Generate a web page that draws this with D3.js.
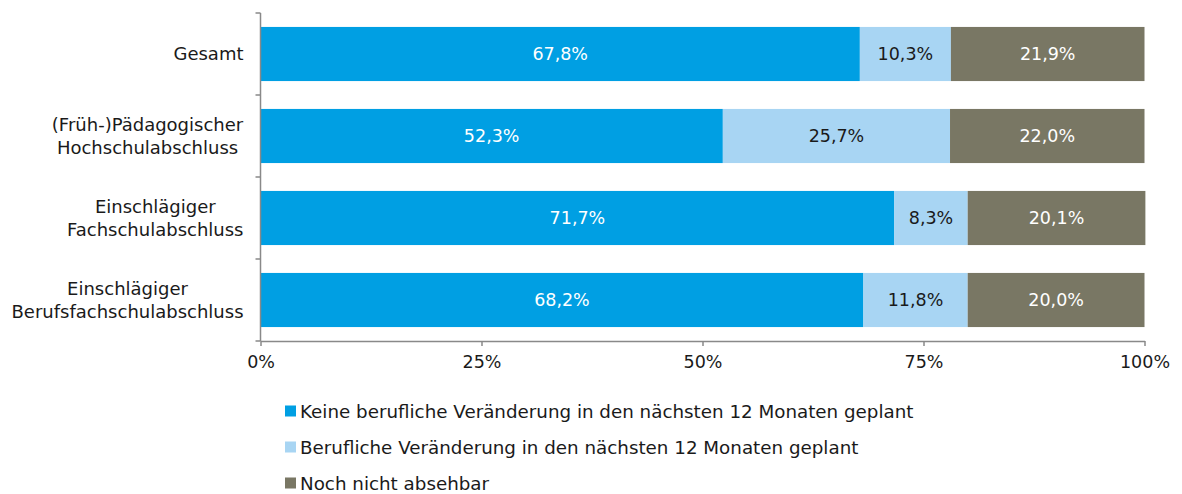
<!DOCTYPE html>
<html>
<head>
<meta charset="utf-8">
<script src="https://cdn.jsdelivr.net/npm/d3@7"></script>
<style>
  body { margin: 0; background: #fff; }
  svg text { font-family: "DejaVu Sans", Verdana, sans-serif; }
</style>
</head>
<body>
<svg id="chart" width="1182" height="494"></svg>
<script>
const categories = [
  ["Gesamt"],
  ["(Früh-)Pädagogischer", "Hochschulabschluss"],
  ["Einschlägiger", "Fachschulabschluss"],
  ["Einschlägiger", "Berufsfachschulabschluss"]
];
const seriesNames = [
  "Keine berufliche Veränderung in den nächsten 12 Monaten geplant",
  "Berufliche Veränderung in den nächsten 12 Monaten geplant",
  "Noch nicht absehbar"
];
const keineVeraenderung = [67.8, 52.3, 71.7, 68.2];
const veraenderungGeplant = [10.3, 25.7, 8.3, 11.8];
const nochNichtAbsehbar = [21.9, 22.0, 20.1, 20.0];
const tickValues = [0, 25, 50, 75, 100];

const colors = ["#009fe3", "#a8d5f3", "#797764"];
const labelColors = ["#ffffff", "#1a1a1a", "#ffffff"];

const svg = d3.select("#chart");
const plotLeft = 260.5, plotRight = 1144.5, plotTop = 13, plotBottom = 341;

const x = d3.scaleLinear().domain([0, 100]).range([plotLeft, plotRight]);
const y = d3.scaleBand().domain(d3.range(categories.length)).range([plotTop, plotBottom]).paddingInner(0.34).paddingOuter(0.17);

const rows = categories.map((c, i) => ({
  i,
  values: [keineVeraenderung[i], veraenderungGeplant[i], nochNichtAbsehbar[i]]
}));
const fmt = v => v.toFixed(1).replace(".", ",") + "%";

// stacked bars
rows.forEach(r => {
  let acc = 0;
  r.values.forEach((v, k) => {
    const x0 = acc, x1 = acc + v;
    acc = x1;
    svg.append("rect")
      .attr("x", x(x0)).attr("y", y(r.i))
      .attr("width", x(x1) - x(x0)).attr("height", y.bandwidth())
      .attr("fill", colors[k]);
    svg.append("text")
      .attr("x", (x(x0) + x(x1)) / 2).attr("y", y(r.i) + y.bandwidth() / 2)
      .attr("dy", "0.36em").attr("text-anchor", "middle")
      .attr("font-size", 17.5).attr("fill", labelColors[k])
      .text(fmt(v));
  });
});

// category axis
const band = (plotBottom - plotTop) / categories.length;
svg.append("line").attr("x1", plotLeft).attr("x2", plotLeft).attr("y1", plotTop).attr("y2", plotBottom)
  .attr("stroke", "#898989").attr("stroke-width", 1.5);
d3.range(categories.length + 1).forEach(k => {
  svg.append("line").attr("x1", plotLeft - 5).attr("x2", plotLeft).attr("y1", plotTop + k * band).attr("y2", plotTop + k * band)
    .attr("stroke", "#898989").attr("stroke-width", 1.5);
});
categories.forEach((lines, i) => {
  const cy = y(i) + y.bandwidth() / 2;
  const t = svg.append("text").attr("text-anchor", "middle").attr("font-size", 18).attr("fill", "#1a1a1a");
  const lh = 23;
  lines.forEach((ln, j) => {
    t.append("tspan").attr("x", 0).attr("y", cy + (j - (lines.length - 1) / 2) * lh).attr("dy", "0.36em").text(ln);
  });
  // right-align the block, each line centred within it
  const w = t.node().getBBox().width;
  t.attr("transform", `translate(${243.5 - w / 2},0)`);
});

// value axis
const xAxis = d3.axisBottom(x).tickValues(tickValues).tickFormat(d => d + "%").tickSize(5).tickSizeOuter(0);
const gx = svg.append("g").attr("transform", `translate(0,${plotBottom})`).call(xAxis);
gx.select(".domain").attr("stroke", "#898989").attr("stroke-width", 1.5);
gx.selectAll(".tick line").attr("stroke", "#898989").attr("stroke-width", 1.5);
gx.selectAll(".tick text").attr("font-size", 17.5).attr("fill", "#1a1a1a").attr("dy", "1.1em")
  .style("font-family", '"DejaVu Sans", Verdana, sans-serif');

// legend
const legend = svg.append("g");
seriesNames.forEach((name, k) => {
  const ly = 411 + k * 36;
  legend.append("rect").attr("x", 285).attr("y", ly - 5.5).attr("width", 11).attr("height", 11).attr("fill", colors[k]);
  legend.append("text").attr("x", 300).attr("y", ly).attr("dy", "0.36em")
    .attr("font-size", 18.3).attr("fill", "#1a1a1a").text(name);
});
</script>
</body>
</html>
